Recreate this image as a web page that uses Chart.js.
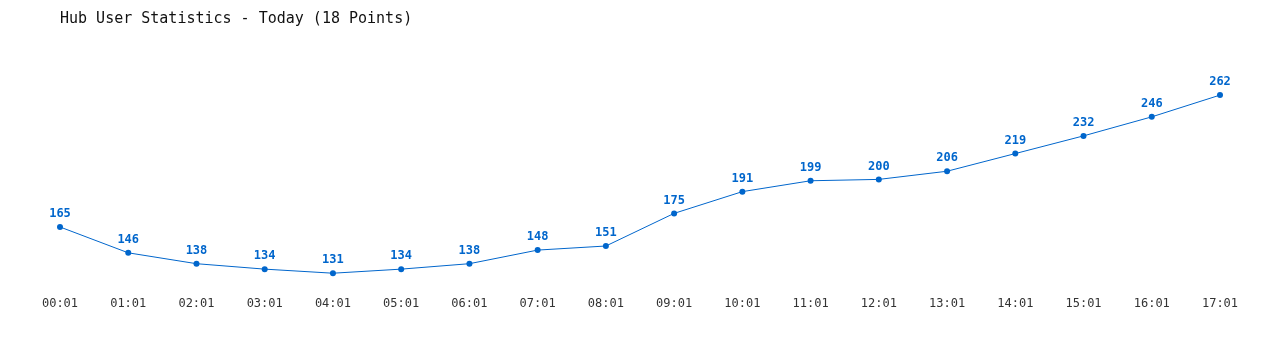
<!DOCTYPE html>
<html>
<head>
<meta charset="utf-8">
<script src="https://cdn.jsdelivr.net/npm/chart.js@4/dist/chart.umd.min.js"></script>
<style>
  html, body { margin: 0; padding: 0; background: #fff; }
  #wrap { width: 1280px; height: 350px; }
</style>
</head>
<body>
<div id="wrap"><canvas id="hubChart"></canvas></div>
<script>
const hours = ['00:01', '01:01', '02:01', '03:01', '04:01', '05:01', '06:01', '07:01', '08:01',
               '09:01', '10:01', '11:01', '12:01', '13:01', '14:01', '15:01', '16:01', '17:01'];
const users = [165, 146, 138, 134, 131, 134, 138, 148, 151, 175, 191, 199, 200, 206, 219, 232, 246, 262];
const chartTitle = 'Hub User Statistics - Today (18 Points)';

const MONO = '"DejaVu Sans Mono", "Liberation Mono", monospace';
const BLUE = '#0066cc';

// draws the value above every point
const valueLabels = {
    id: 'valueLabels',
    afterDatasetsDraw(chart) {
        const ctx = chart.ctx;
        const meta = chart.getDatasetMeta(0);
        ctx.save();
        ctx.font = 'bold 12px ' + MONO;
        ctx.fillStyle = BLUE;
        ctx.textAlign = 'center';
        ctx.textBaseline = 'middle';
        meta.data.forEach((pt, i) => {
            ctx.fillText(chart.data.datasets[0].data[i], pt.x, pt.y - 13);
        });
        ctx.restore();
    }
};

const ctx = document.getElementById('hubChart').getContext('2d');
new Chart(ctx, {
    type: 'line',
    data: {
        labels: hours,
        datasets: [{
            label: 'Users',
            data: users,
            borderColor: BLUE,
            backgroundColor: BLUE,
            borderWidth: 1,
            pointRadius: 3,
            pointBackgroundColor: BLUE,
            pointBorderWidth: 0,
            tension: 0,
            fill: false
        }]
    },
    options: {
        responsive: true,
        maintainAspectRatio: false,
        animation: false,
        layout: {
            padding: { left: 60, right: 60, top: 0, bottom: 36 }
        },
        plugins: {
            legend: { display: false },
            tooltip: { enabled: false },
            title: {
                display: true,
                text: chartTitle,
                align: 'start',
                color: '#111',
                font: { family: MONO, size: 15, weight: 'normal' },
                padding: { top: 10, bottom: 10 }
            }
        },
        scales: {
            x: {
                offset: false,
                grid: { display: false, drawTicks: false },
                border: { display: false },
                ticks: {
                    color: '#333',
                    font: { family: MONO, size: 12 },
                    maxRotation: 0,
                    autoSkip: false,
                    padding: 3
                }
            },
            y: {
                display: false,
                min: 116,
                max: 304
            }
        }
    },
    plugins: [valueLabels]
});
</script>
</body>
</html>
